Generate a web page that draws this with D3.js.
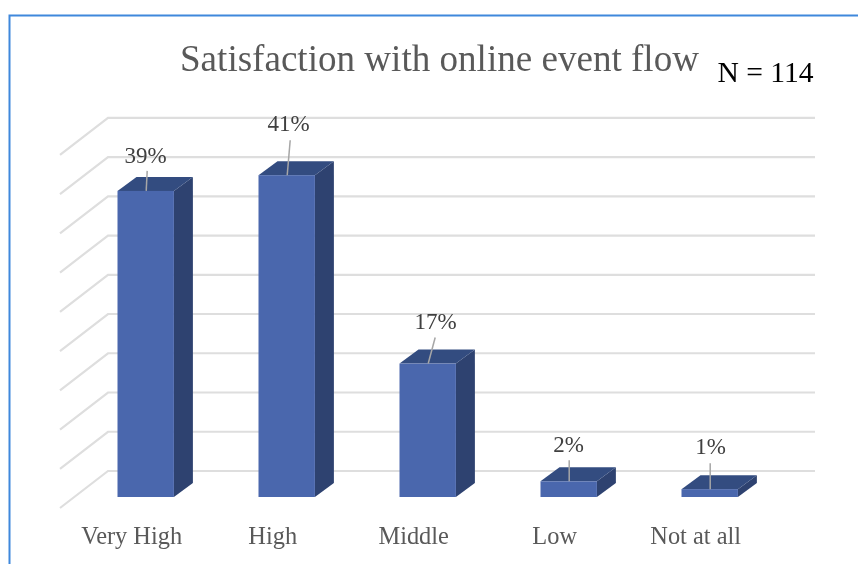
<!DOCTYPE html>
<html>
<head>
<meta charset="utf-8">
<script src="https://cdn.jsdelivr.net/npm/d3@7"></script>
<style>
html,body{margin:0;padding:0;background:#fff;overflow:hidden}
svg{display:block;font-family:"Liberation Serif",serif;filter:blur(0.35px)}
</style>
</head>
<body>
<div id="chart"></div>
<script>
const categories = ["Very High", "High", "Middle", "Low", "Not at all"];
const percentages = [39, 41, 17, 2, 1];
const gridValues = [0, 5, 10, 15, 20, 25, 30, 35, 40, 45];
const chartTitle = "Satisfaction with online event flow";
const sampleNote = "N = 114";

// Layout of the hand-placed data labels, relative to each bar's top centre
const labelLift = [36, 52, 43, 37, 43];
const labelShift = [0, 2, 8, 0, 1];
const leaderLift = [20, 35, 26, 21, 26];
const leaderShift = [1, 3, 7, 0, 0];

const W = 858, H = 564;
const svg = d3.select("#chart").append("svg").attr("width", W).attr("height", H);

const barBaseY = 497;
const depthX = 19, depthY = 14;
const x = d3.scaleBand().domain(categories).range([75.2, 780.2]).paddingInner(0.6).paddingOuter(0.3);
const y = d3.scaleLinear().domain([0, 45]).range([barBaseY, barBaseY - 353.2]);

// frame
svg.append("path").attr("d", `M9.5,564V15.5H${W}`).attr("fill", "none")
  .attr("stroke", "#3f88dc").attr("stroke-width", 2);

// gridlines: side wall plus back wall
const floorFrontX = 60, wallX = 108, wallRight = 815;
const gridG = svg.append("g").attr("fill", "none").attr("stroke", "#dedede").attr("stroke-width", 2.2);
gridG.selectAll("path").data(gridValues).join("path")
  .attr("d", v => {
    const back = y(v) - 26;
    return `M${floorFrontX},${back + 37}L${wallX},${back}H${wallRight}`;
  });

// bars
const barG = svg.append("g").selectAll("g").data(categories).join("g");
const val = i => percentages[i];
barG.append("path").attr("fill", "#2e4270")
  .attr("d", (c, i) => {
    const r = x(c) + x.bandwidth(), t = y(val(i));
    return `M${r},${t}l${depthX},${-depthY}V${barBaseY - depthY}L${r},${barBaseY}Z`;
  });
barG.append("path").attr("fill", "#334c80")
  .attr("d", (c, i) => {
    const l = x(c), t = y(val(i));
    return `M${l},${t}l${depthX},${-depthY}h${x.bandwidth()}l${-depthX},${depthY}Z`;
  });
barG.append("rect").attr("fill", "#4a67ad")
  .attr("x", c => x(c)).attr("width", x.bandwidth())
  .attr("y", (c, i) => y(val(i))).attr("height", (c, i) => barBaseY - y(val(i)));

// leaders
barG.append("line").attr("stroke", "#a6a6a6").attr("stroke-width", 1.5)
  .attr("x1", c => x(c) + x.bandwidth() / 2 + 0.5)
  .attr("y1", (c, i) => y(val(i)))
  .attr("x2", (c, i) => x(c) + x.bandwidth() / 2 + 0.5 + leaderShift[i])
  .attr("y2", (c, i) => y(val(i)) - leaderLift[i]);

// data labels
barG.append("text").attr("text-anchor", "middle").attr("font-size", 23).attr("fill", "#404040")
  .attr("x", (c, i) => x(c) + x.bandwidth() / 2 + labelShift[i])
  .attr("y", (c, i) => y(val(i)) - labelLift[i] + 8)
  .text((c, i) => percentages[i] + "%");

// category labels
svg.append("g").selectAll("text").data(categories).join("text")
  .attr("text-anchor", "middle").attr("font-size", 24.4).attr("fill", "#595959")
  .attr("x", c => x(c) + x.bandwidth() / 2 - 14).attr("y", 544).text(c => c);

// title and note
svg.append("text").attr("x", 439.5).attr("y", 71).attr("text-anchor", "middle")
  .attr("font-size", 37.1).attr("fill", "#595959").text(chartTitle);
svg.append("text").attr("x", 717.5).attr("y", 82)
  .attr("font-size", 29.6).attr("fill", "#000").text(sampleNote);
</script>
</body>
</html>
